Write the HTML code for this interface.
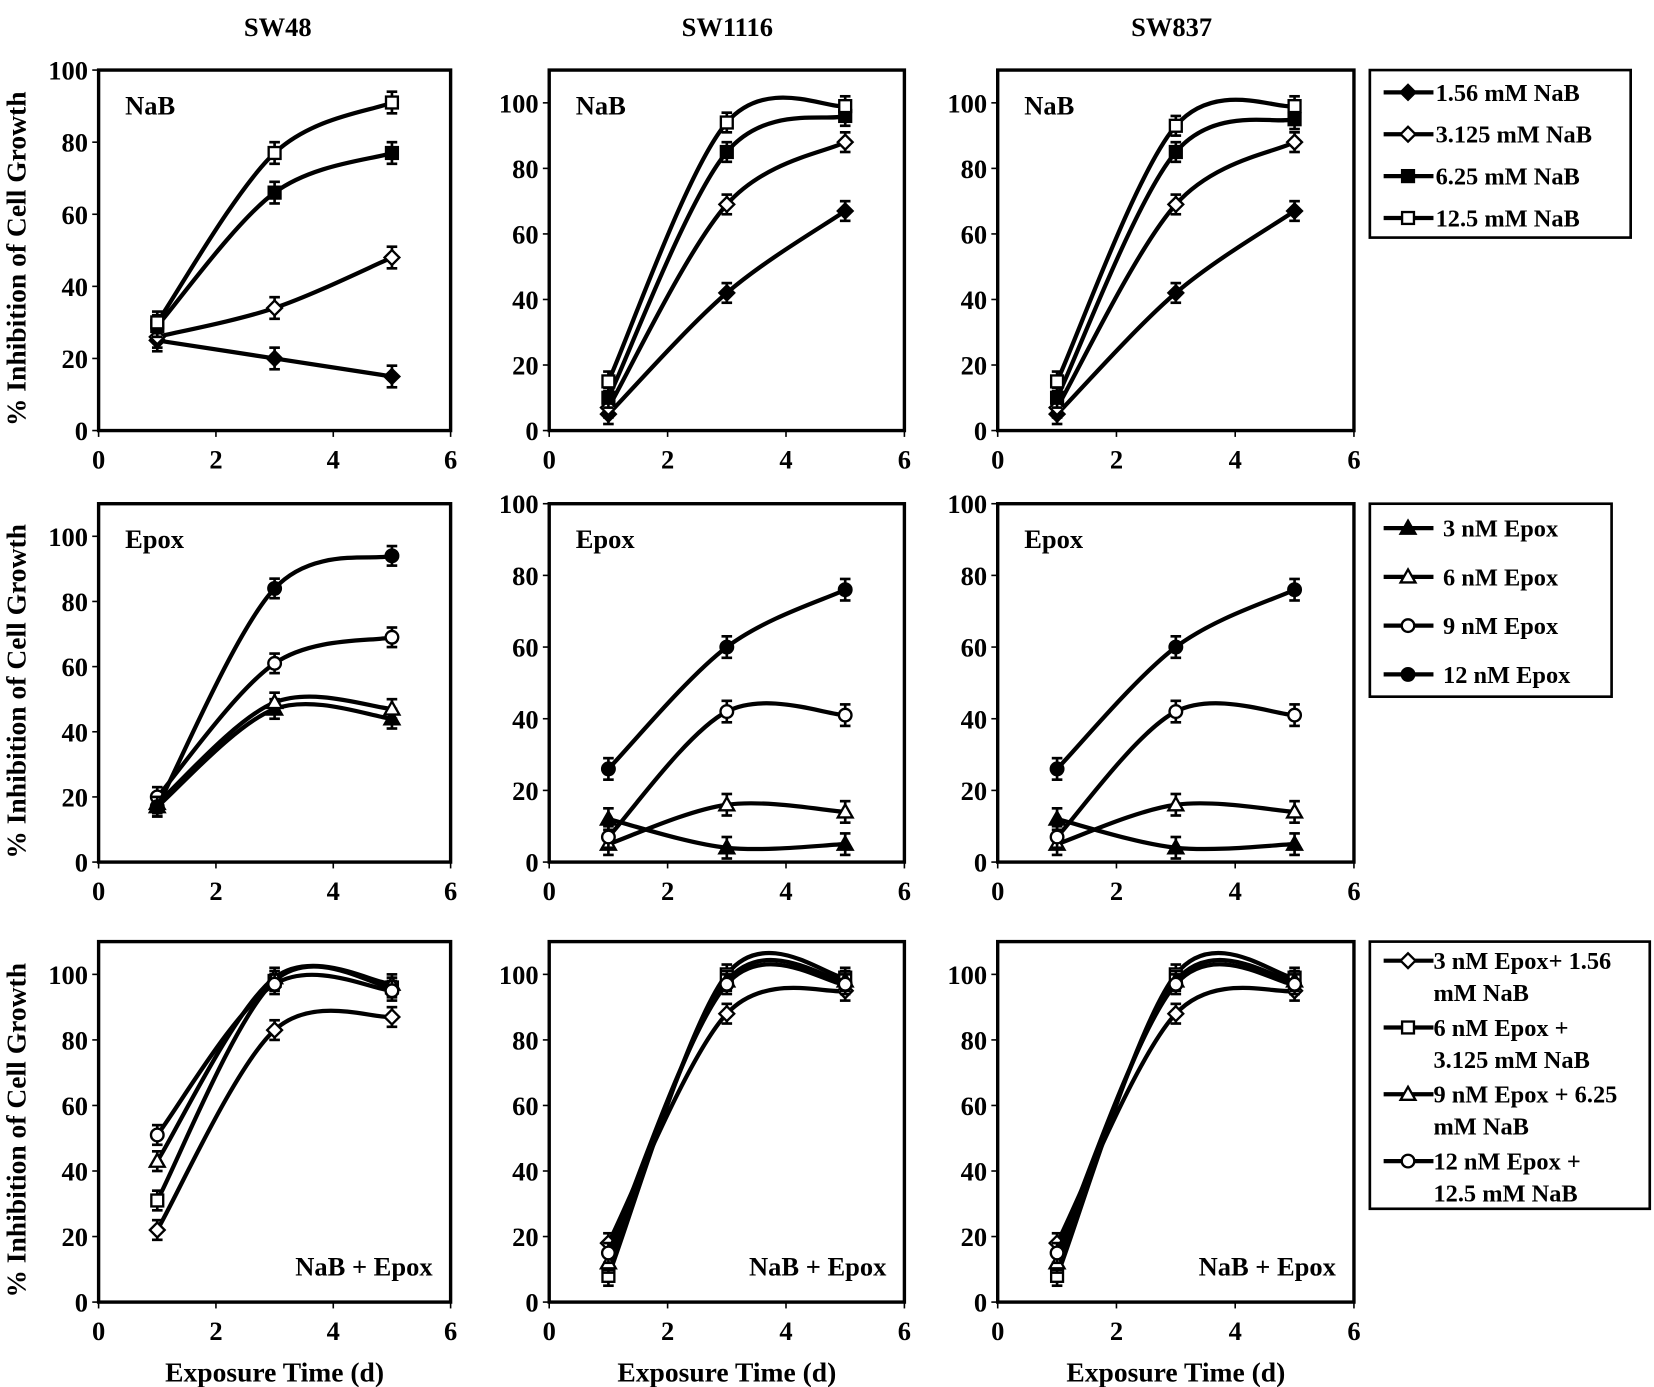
<!DOCTYPE html>
<html><head><meta charset="utf-8"><style>
html,body{margin:0;padding:0;background:#fff;}
svg{display:block;}
text{font-family:"Liberation Serif",serif;font-weight:bold;fill:#000;}
</style></head><body>
<svg id="fig" width="1654" height="1387" viewBox="0 0 1560 1308" xmlns="http://www.w3.org/2000/svg">
<rect x="0" y="0" width="1560" height="1308" fill="#fff"/>
<text x="262" y="34" font-size="25" text-anchor="middle">SW48</text>
<text x="686" y="34" font-size="25" text-anchor="middle">SW1116</text>
<text x="1105" y="34" font-size="25" text-anchor="middle">SW837</text>
<g id="plots"></g>
<g id="legends"></g>
</svg>
<script>
// ---- data ----
const days = [1, 3, 5];
// Row 1: NaB
const sw48_nab_156 = [25, 20, 15];
const sw48_nab_3125 = [26, 34, 48];
const sw48_nab_625 = [29, 66, 77];
const sw48_nab_125 = [30, 77, 91];
const sw1116_nab_156 = [5, 42, 67];
const sw1116_nab_3125 = [7, 69, 88];
const sw1116_nab_625 = [10, 85, 96];
const sw1116_nab_125 = [15, 94, 99];
const sw837_nab_156 = [5, 42, 67];
const sw837_nab_3125 = [7, 69, 88];
const sw837_nab_625 = [10, 85, 95];
const sw837_nab_125 = [15, 93, 99];
// Row 2: Epox
const sw48_epox_3 = [17, 47, 44];
const sw48_epox_6 = [18, 49, 47];
const sw48_epox_9 = [20, 61, 69];
const sw48_epox_12 = [17, 84, 94];
const sw1116_epox_3 = [12, 4, 5];
const sw1116_epox_6 = [5, 16, 14];
const sw1116_epox_9 = [7, 42, 41];
const sw1116_epox_12 = [26, 60, 76];
const sw837_epox_3 = [12, 4, 5];
const sw837_epox_6 = [5, 16, 14];
const sw837_epox_9 = [7, 42, 41];
const sw837_epox_12 = [26, 60, 76];
// Row 3: combination
const sw48_combo_1 = [22, 83, 87];
const sw48_combo_2 = [31, 98, 96];
const sw48_combo_3 = [43, 99, 97];
const sw48_combo_4 = [51, 97, 95];
const sw1116_combo_1 = [18, 88, 95];
const sw1116_combo_2 = [8, 100, 99];
const sw1116_combo_3 = [12, 98, 98];
const sw1116_combo_4 = [15, 97, 97];
const sw837_combo_1 = [18, 88, 95];
const sw837_combo_2 = [8, 100, 99];
const sw837_combo_3 = [12, 98, 98];
const sw837_combo_4 = [15, 97, 97];
const errorBar = [3, 3, 3];
const yTicks = [0, 20, 40, 60, 80, 100];
const xTicks = [0, 2, 4, 6];
const xMax = 6;
const yMaxes = [[100, 110, 110], [110, 100, 100], [110, 110, 110]];
const legendNaB = ["1.56 mM NaB", "3.125 mM NaB", "6.25 mM NaB", "12.5 mM NaB"];
const legendEpox = ["3 nM Epox", "6 nM Epox", "9 nM Epox", "12 nM Epox"];
const legendCombo = [["3 nM Epox+ 1.56", "mM NaB"], ["6 nM Epox +", "3.125 mM NaB"], ["9 nM Epox + 6.25", "mM NaB"], ["12 nM Epox +", "12.5 mM NaB"]];

const rowsData = [
  [[sw48_nab_156, sw48_nab_3125, sw48_nab_625, sw48_nab_125],
   [sw1116_nab_156, sw1116_nab_3125, sw1116_nab_625, sw1116_nab_125],
   [sw837_nab_156, sw837_nab_3125, sw837_nab_625, sw837_nab_125]],
  [[sw48_epox_3, sw48_epox_6, sw48_epox_9, sw48_epox_12],
   [sw1116_epox_3, sw1116_epox_6, sw1116_epox_9, sw1116_epox_12],
   [sw837_epox_3, sw837_epox_6, sw837_epox_9, sw837_epox_12]],
  [[sw48_combo_1, sw48_combo_2, sw48_combo_3, sw48_combo_4],
   [sw1116_combo_1, sw1116_combo_2, sw1116_combo_3, sw1116_combo_4],
   [sw837_combo_1, sw837_combo_2, sw837_combo_3, sw837_combo_4]]
];
const markers = [
  [["diamond", true], ["diamond", false], ["square", true], ["square", false]],
  [["triangle", true], ["triangle", false], ["circle", false], ["circle", true]],
  [["diamond", false], ["square", false], ["triangle", false], ["circle", false]]
];
const cellNames = ["sw48", "sw1116", "sw837"];
const rowNames = ["nab", "epox", "combo"];

// ---- layout ----
const colX = [93, 518, 941];
const colW = [332, 335, 336];
const rowTop = [66, 475, 888];
const rowBot = [406, 813, 1228];
const NS = "http://www.w3.org/2000/svg";
function mk(tag, attrs, parent) {
  const e = document.createElementNS(NS, tag);
  for (const k in attrs) e.setAttribute(k, attrs[k]);
  parent.appendChild(e);
  return e;
}
function marker(g, type, filled, cx, cy, s) {
  const f = filled ? "#000" : "#fff";
  let e;
  if (type === "diamond") e = mk("polygon", {points: `${cx},${cy-s} ${cx+s},${cy} ${cx},${cy+s} ${cx-s},${cy}`, fill: f, stroke: "#000", "stroke-width": 2.2}, g);
  else if (type === "square") e = mk("rect", {x: cx-s*0.8, y: cy-s*0.8, width: s*1.6, height: s*1.6, fill: f, stroke: "#000", "stroke-width": 2.2}, g);
  else if (type === "triangle") e = mk("polygon", {points: `${cx},${cy-s} ${cx+s},${cy+s*0.75} ${cx-s},${cy+s*0.75}`, fill: f, stroke: "#000", "stroke-width": 2.2}, g);
  else e = mk("circle", {cx: cx, cy: cy, r: s*0.85, fill: f, stroke: "#000", "stroke-width": 2.2}, g);
  return e;
}
function smoothPath(pts) {
  let d = `M${pts[0][0]},${pts[0][1]}`;
  for (let i = 0; i < pts.length - 1; i++) {
    const p0 = pts[Math.max(i-1, 0)], p1 = pts[i], p2 = pts[i+1], p3 = pts[Math.min(i+2, pts.length-1)];
    const t = 1/6;
    const c1 = [p1[0] + (p2[0]-p0[0])*t, p1[1] + (p2[1]-p0[1])*t];
    const c2 = [p2[0] - (p3[0]-p1[0])*t, p2[1] - (p3[1]-p1[1])*t];
    d += ` C${c1[0]},${c1[1]} ${c2[0]},${c2[1]} ${p2[0]},${p2[1]}`;
  }
  return d;
}
const plots = document.getElementById("plots");
for (let r = 0; r < 3; r++) {
  for (let c = 0; c < 3; c++) {
    const x0 = colX[c], w = colW[c], top = rowTop[r], bot = rowBot[r], ymax = yMaxes[r][c];
    const xs = v => x0 + v / xMax * w;
    const ys = v => bot - v / ymax * (bot - top);
    const g = mk("g", {}, plots);
    
    
    const frame = mk("rect", {x: x0, y: top, width: w, height: bot - top, fill: "none", stroke: "#000", "stroke-width": 3.2}, g);
    
    
    yTicks.forEach(t => {
      const y = ys(t);
      mk("line", {x1: x0 - 6, y1: y, x2: x0, y2: y, stroke: "#000", "stroke-width": 1.5}, g);
      const tl = mk("text", {x: x0 - 10, y: y + 9, "font-size": 25, "text-anchor": "end"}, g);
      tl.textContent = t;
      
      
    });
    xTicks.forEach(t => {
      const x = xs(t);
      mk("line", {x1: x, y1: bot, x2: x, y2: bot + 6, stroke: "#000", "stroke-width": 1.5}, g);
      const tl = mk("text", {x: x, y: bot + 36, "font-size": 25, "text-anchor": "middle"}, g);
      tl.textContent = t;
      
      
    });
    const lbl = mk("text", r < 2 ? {x: x0 + 25, y: top + 42, "font-size": 25} : {x: x0 + w - 17, y: bot - 25, "font-size": 25, "text-anchor": "end"}, g);
    lbl.textContent = ["NaB", "Epox", "NaB + Epox"][r];
    
    
    rowsData[r][c].forEach((vals, si) => {
      const sg = mk("g", {}, g);
      
      
      const pts = days.map((d, i) => [xs(d), ys(vals[i])]);
      const path = mk("path", {d: smoothPath(pts), fill: "none", stroke: "#000", "stroke-width": 4}, sg);
      
      
      days.forEach((d, i) => {
        const cx = xs(d), yv = vals[i];
        const e1 = ys(yv + errorBar[i]), e2 = ys(yv - errorBar[i]);
        mk("line", {x1: cx, y1: e1, x2: cx, y2: e2, stroke: "#000", "stroke-width": 2.5}, sg);
        mk("line", {x1: cx - 5, y1: e1, x2: cx + 5, y2: e1, stroke: "#000", "stroke-width": 2.5}, sg);
        mk("line", {x1: cx - 5, y1: e2, x2: cx + 5, y2: e2, stroke: "#000", "stroke-width": 2.5}, sg);
        const m = marker(sg, markers[r][si][0], markers[r][si][1], cx, ys(yv), 7);
        
        
      });
    });
    if (r === 2) {
      const xt = mk("text", {x: x0 + w / 2, y: 1303, "font-size": 26, "text-anchor": "middle"}, g);
      xt.textContent = "Exposure Time (d)";
      
      
    }
  }
  const cy = (rowTop[r] + rowBot[r]) / 2 + 8;
  const yt = mk("text", {x: 0, y: 0, "font-size": 26, "text-anchor": "middle", transform: `translate(24,${cy}) rotate(-90)`}, plots);
  yt.textContent = "% Inhibition of Cell Growth";
  
  
}
// ---- legends ----
const legs = document.getElementById("legends");
function legendBox(name, x, y, w, h) {
  const g = mk("g", {}, legs);
  
  
  mk("rect", {x: x, y: y, width: w, height: h, fill: "#fff", stroke: "#000", "stroke-width": 2.5}, g);
  return g;
}
function legendEntry(g, r, si, y, lines, textX) {
  const eg = mk("g", {}, g);
  
  
  mk("line", {x1: 1305, y1: y, x2: 1352, y2: y, stroke: "#000", "stroke-width": 4}, eg);
  marker(eg, markers[r][si][0], markers[r][si][1], 1328, y, 7);
  lines.forEach((ln, li) => {
    const t = mk("text", {x: textX, y: y + 8 + li * 30, "font-size": 23}, eg);
    t.textContent = ln;
  });
}
const g1 = legendBox("legend-nab", 1292, 66, 246, 158);
legendNaB.forEach((s, i) => legendEntry(g1, 0, i, 87 + i * 39.5, [s], 1354));
const g2 = legendBox("legend-epox", 1292, 475, 228, 182);
legendEpox.forEach((s, i) => legendEntry(g2, 1, i, 498 + i * 46, [s], 1361));
const g3 = legendBox("legend-combo", 1292, 888, 264, 252);
legendCombo.forEach((s, i) => legendEntry(g3, 2, i, 906 + i * 63, s, 1352));
</script>
</body></html>
